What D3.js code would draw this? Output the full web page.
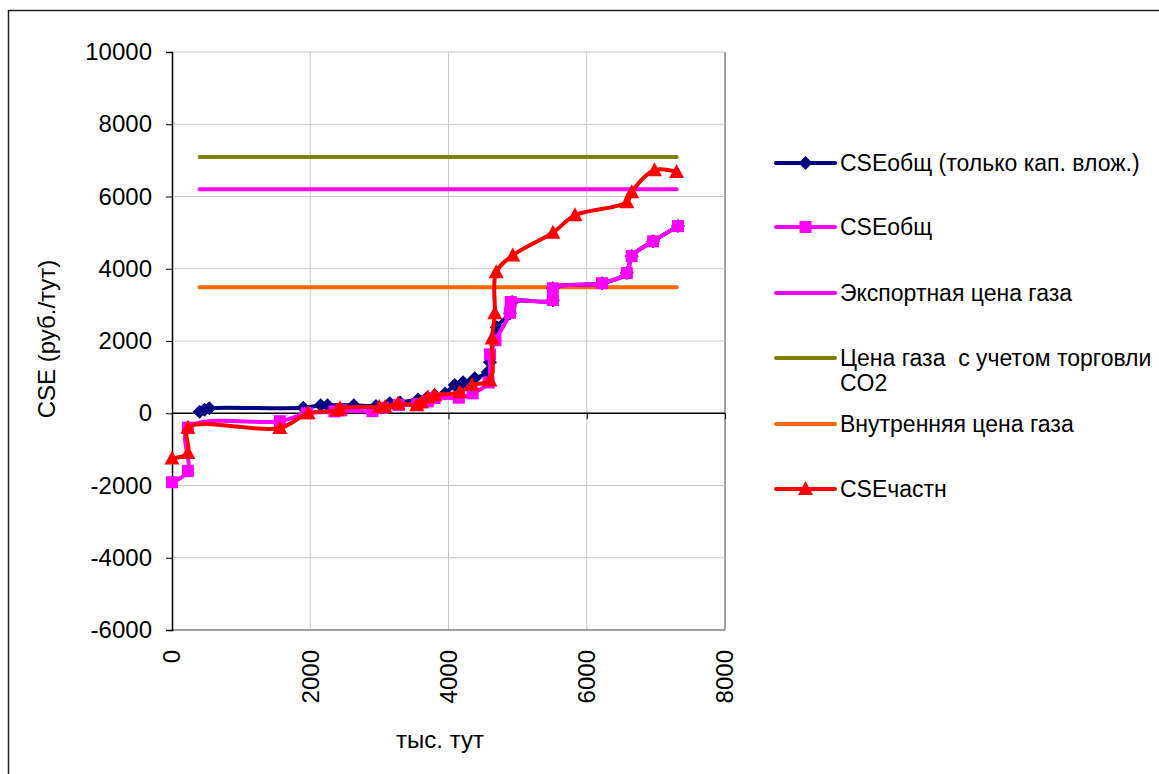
<!DOCTYPE html>
<html><head><meta charset="utf-8">
<script src="https://cdn.jsdelivr.net/npm/d3@7"></script>
<style>body{margin:0;background:#fff}svg{display:block;font-family:"Liberation Sans",Arial,sans-serif}</style>
</head><body><svg id="c" width="1159" height="774"></svg>
<script>
// ---- data ----
const xTicks = [0, 2000, 4000, 6000, 8000];
const yTicks = [-6000, -4000, -2000, 0, 2000, 4000, 6000, 8000, 10000];

const blueX = [400, 470, 540, 1900, 2150, 2250, 2630, 2950, 3150, 3300, 3560, 3690, 3800, 3950, 4090, 4210, 4380, 4570, 4600, 4700, 4890, 4920, 5510, 5510, 6220, 6580, 6650, 6960, 7320];
const blueY = [40, 100, 140, 150, 220, 220, 220, 200, 280, 300, 380, 430, 500, 550, 780, 860, 970, 1140, 1410, 2380, 2770, 3080, 3130, 3460, 3600, 3880, 4350, 4760, 5180];

const magX = [0, 230, 230, 1560, 1950, 2350, 2450, 2900, 3050, 3280, 3550, 3700, 3800, 4150, 4350, 4580, 4600, 4680, 4890, 4900, 5510, 5510, 6220, 6580, 6650, 6960, 7320];
const magY = [-1910, -1600, -400, -220, 0, 50, 80, 60, 150, 230, 250, 330, 420, 430, 550, 850, 1630, 2020, 2780, 3080, 3130, 3460, 3600, 3880, 4350, 4760, 5180];

const redX = [0, 230, 230, 1560, 1970, 2390, 2430, 3000, 3080, 3270, 3540, 3610, 3700, 3800, 4160, 4340, 4600, 4630, 4670, 4690, 4930, 5510, 5830, 6580, 6650, 6980, 7300];
const redY = [-1250, -1100, -400, -410, 0, 80, 140, 170, 170, 270, 220, 300, 440, 500, 580, 780, 910, 2070, 2770, 3900, 4370, 5000, 5480, 5840, 6120, 6730, 6680];

const refX = [400, 7300];
const exportPrice = 6200;
const co2Price = 7090;
const domesticPrice = 3490;

const names = ["CSEобщ (только кап. влож.)", "CSEобщ", "Экспортная цена газа", ["Цена газа  с учетом торговли", "CO2"], "Внутренняя цена газа", "CSEчастн"];

// ---- chart ----
const svg = d3.select("#c");
const L = 172, R = 725, T = 52, B = 630;
const x = d3.scaleLinear().domain([0, 8000]).range([L, R]);
const y = d3.scaleLinear().domain([-6000, 10000]).range([B, T]);
const FS = 24;

svg.append("rect").attr("x", 8.5).attr("y", 10.5).attr("width", 1170).attr("height", 800)
  .attr("fill", "none").attr("stroke", "#222").attr("stroke-width", 1.5);

// grid
svg.append("g").selectAll("line").data(xTicks.slice(1)).join("line")
  .attr("x1", d => x(d)).attr("x2", d => x(d)).attr("y1", T).attr("y2", B)
  .attr("stroke", d => d === 8000 ? "#808080" : "#c8c8c8").attr("stroke-width", d => d === 8000 ? 1.5 : 1);
svg.append("g").selectAll("line").data(yTicks).join("line")
  .attr("x1", L).attr("x2", R).attr("y1", d => y(d)).attr("y2", d => y(d))
  .attr("stroke", d => d === -6000 ? "#808080" : "#c8c8c8").attr("stroke-width", d => d === -6000 ? 1.5 : 1);

// y axis
const yAx = svg.append("g").attr("transform", `translate(${L},0)`)
  .call(d3.axisLeft(y).tickValues(yTicks).tickSize(6).tickPadding(14).tickFormat(d => String(d)));
yAx.select(".domain").attr("stroke", "#000").attr("stroke-width", 1.5);
yAx.selectAll("text").attr("font-size", FS).attr("font-family", "Liberation Sans, Arial").attr("fill", "#000");
yAx.selectAll(".tick line").attr("stroke", "#000");

// x axis at y=0
const xAx = svg.append("g").attr("transform", `translate(0,${y(0)})`)
  .call(d3.axisBottom(x).tickValues(xTicks).tickSize(6).tickFormat(""));
xAx.select(".domain").attr("stroke", "#000").attr("stroke-width", 1.5).attr("d", `M${L},0H${R}`);
xAx.selectAll(".tick line").attr("stroke", "#000");
// x tick labels, below plot, rotated
svg.append("g").selectAll("text").data(xTicks).join("text")
  .attr("transform", d => `translate(${x(d)},${B + 20}) rotate(-90)`)
  .attr("text-anchor", "end").attr("dy", "0.35em")
  .attr("font-size", FS).text(d => String(d));

// axis titles
svg.append("text").attr("x", 440).attr("y", 748).attr("text-anchor", "middle").attr("font-size", FS).text("тыс. тут");
svg.append("text").attr("transform", `translate(55,${(T + B) / 2 - 2}) rotate(-90)`).attr("text-anchor", "middle")
  .attr("font-size", FS).text("CSE (руб./тут)");

// reference lines
const refs = [[co2Price, "#808000"], [exportPrice, "#ff00ff"], [domesticPrice, "#ff6600"]];
refs.forEach(([v, c]) => {
  svg.append("line").attr("x1", x(refX[0])).attr("x2", x(refX[1])).attr("y1", y(v)).attr("y2", y(v))
    .attr("stroke", c).attr("stroke-width", 4).attr("stroke-linecap", "round");
});

const line = d3.line().x(d => x(d[0])).y(d => y(d[1])).curve(d3.curveCatmullRom.alpha(0.5));
function series(xs, ys, color, marker, w) {
  const pts = xs.map((v, i) => [v, ys[i]]);
  svg.append("path").datum(pts).attr("d", line).attr("fill", "none").attr("stroke", color)
    .attr("stroke-width", w).attr("stroke-linejoin", "round");
  svg.append("g").selectAll("path").data(pts).join("path")
    .attr("transform", d => `translate(${x(d[0])},${y(d[1])})`)
    .attr("d", marker).attr("fill", color);
}
const diamond = "M0,-7L7,0L0,7L-7,0Z";
const square = "M-6,-6H6V6H-6Z";
const tri = "M0,-8L7.5,6H-7.5Z";
series(blueX, blueY, "#000080", diamond, 4);
series(magX, magY, "#ff00ff", square, 4);
series(redX, redY, "#ff0000", tri, 4);

// legend
const LX1 = 776, LX2 = 835, TX = 840;
const rowsY = [163, 227, 293, 358, 424, 489];
const legItems = [
  ["#000080", diamond], ["#ff00ff", square], ["#ff00ff", null], ["#808000", null], ["#ff6600", null], ["#ff0000", tri]
];
legItems.forEach(([c, m], i) => {
  const yy = rowsY[i];
  svg.append("line").attr("x1", LX1).attr("x2", LX2).attr("y1", yy).attr("y2", yy)
    .attr("stroke", c).attr("stroke-width", 4).attr("stroke-linecap", "round");
  if (m) svg.append("path").attr("transform", `translate(${(LX1 + LX2) / 2},${yy})`).attr("d", m).attr("fill", c);
  const n = names[i];
  const t = svg.append("text").attr("x", TX).attr("y", yy).attr("dy", "0.35em").attr("font-size", 23)
    .style("white-space", "pre");
  if (Array.isArray(n)) {
    t.append("tspan").attr("x", TX).text(n[0]);
    t.append("tspan").attr("x", TX).attr("dy", "1.1em").text(n[1]);
  } else t.text(n);
});
</script></body></html>
